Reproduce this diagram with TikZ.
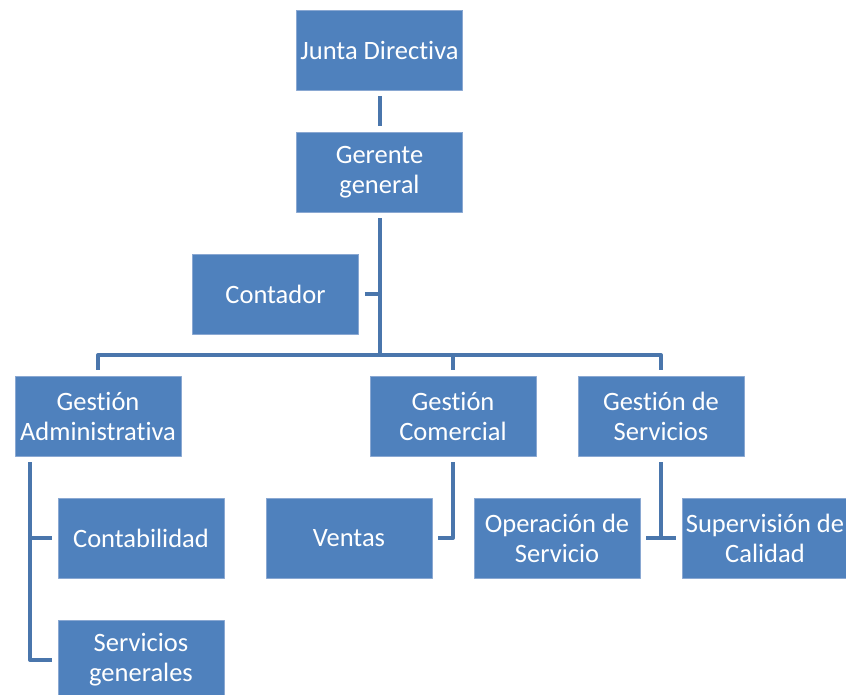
\documentclass[tikz,border=0pt]{standalone}
\usepackage{fontspec}
\setmainfont[Ligatures={NoCommon,NoContextual}]{Carlito}
\usetikzlibrary{calc}

\definecolor{azulcaja}{HTML}{4F81BD}
\definecolor{azulborde}{HTML}{8AA8D2}
\definecolor{azullinea}{HTML}{4A76AC}

\begin{document}
\begin{tikzpicture}[
    x=1pt,
    y=-1pt,
    line join=round,
    caja/.style={rectangle, fill=azulcaja, draw=azulborde, line width=0.8pt,
        minimum width=166pt, minimum height=80pt, inner sep=1pt,
        align=center, text=white, font=\fontsize{26.5}{30}\selectfont},
    conector/.style={draw=azullinea, line width=4pt}
]

\useasboundingbox (0,0) rectangle (846,695);

\node[caja] (junta)    at (379.5,50)  {Junta Directiva};
\node[caja] (gerente)  at (379.5,172) {Gerente\\general};
\node[caja] (contador) at (275.5,294) {Contador};

\node[caja] (gadm)  at (98,416)  {Gestión\\Administrativa};
\node[caja] (gcom)  at (453,416) {Gestión\\Comercial};
\node[caja] (gserv) at (661,416) {Gestión de\\Servicios};

\node[caja] (contab)  at (141,538) {Contabilidad};
\node[caja] (servgen) at (141,660) {Servicios\\generales};
\node[caja] (ventas)  at (349,538) {Ventas};
\node[caja] (operac)  at (557,538) {Operación de\\Servicio};
\node[caja] (superv)  at (765,538) {Supervisión de\\Calidad};

\coordinate (tronco) at (379.5,355);
\coordinate (admx)   at (30,462);

\draw[conector] ([yshift=-6pt]junta.south) -- ([yshift=6pt]gerente.north);
\draw[conector] ([yshift=-6pt]gerente.south) -- (tronco);
\draw[conector] ([xshift=6pt]contador.east) -- (contador.east -| tronco);

\draw[conector] ([yshift=6pt]gadm.north) -- (gadm.north |- tronco)
    -- (gserv.north |- tronco) -- ([yshift=6pt]gserv.north);
\draw[conector] (gcom.north |- tronco) -- ([yshift=6pt]gcom.north);

\draw[conector] (admx) -- (admx |- servgen.west) -- ([xshift=-6pt]servgen.west);
\draw[conector] (admx |- contab.west) -- ([xshift=-6pt]contab.west);

\draw[conector] ([yshift=-6pt]gcom.south) -- (gcom.south |- ventas.east)
    -- ([xshift=6pt]ventas.east);

\draw[conector] ([yshift=-6pt]gserv.south) -- (gserv.south |- operac.east);
\draw[conector] ([xshift=6pt]operac.east) -- ([xshift=-6pt]superv.west);

\end{tikzpicture}
\end{document}
